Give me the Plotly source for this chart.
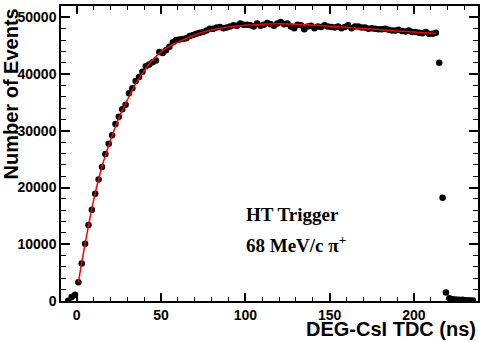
"""DEG-CsI TDC distribution with fit, ROOT-like style."""
import plotly.graph_objects as go

# bin centres (ns) and counts per bin
tdc_ns = [
    -5, -3, -1, 1, 3, 5, 7, 9, 11, 13, 15, 17, 19, 21, 23, 25, 27, 29, 31, 33,
    35, 37, 39, 41, 43, 45, 47, 49, 51, 53, 55, 57, 59, 61, 63, 65, 67, 69, 71, 73,
    75, 77, 79, 81, 83, 85, 87, 89, 91, 93, 95, 97, 99, 101, 103, 105, 107, 109, 111, 113,
    115, 117, 119, 121, 123, 125, 127, 129, 131, 133, 135, 137, 139, 141, 143, 145, 147, 149, 151, 153,
    155, 157, 159, 161, 163, 165, 167, 169, 171, 173, 175, 177, 179, 181, 183, 185, 187, 189, 191, 193,
    195, 197, 199, 201, 203, 205, 207, 209, 211, 213, 215, 217, 219, 221, 223, 225, 227, 229, 231, 233,
    235,
]
events = [
    50, 700, 1100, 3300, 6600, 10100, 13400, 16100, 18900, 21400,
    23600, 25900, 27700, 29200, 31200, 32500, 33800, 34600, 36600, 37500,
    38800, 39500, 40400, 41400, 41700, 42100, 42400, 43900, 43700, 44200,
    44800, 45600, 46000, 46100, 46200, 46300, 46700, 46900, 47100, 47300,
    47400, 47700, 48000, 48000, 48200, 48300, 48100, 48200, 48400, 48600,
    48500, 48900, 48700, 48700, 48600, 48400, 48900, 48500, 48700, 49000,
    48800, 48500, 48900, 49200, 48800, 48900, 48400, 48100, 48700, 48600,
    47900, 48400, 48500, 48100, 48400, 48300, 48600, 48400, 48300, 48200,
    48400, 48100, 48300, 48600, 48100, 48400, 48400, 48200, 48200, 48000,
    48100, 48000, 47900, 47900, 48000, 47800, 47700, 47700, 47800, 47600,
    47500, 47700, 47400, 47400, 47300, 47200, 47400, 47100, 47100, 47300,
    42000, 18200, 1500, 500, 300, 250, 200, 200, 150, 150,
    100,
]

# fitted curve
fit_x = [1, 5, 10, 15, 20, 25, 30, 35, 40, 45, 50, 55, 60, 70, 80, 90, 100,
         110, 120, 130, 140, 150, 160, 170, 180, 190, 200, 213]
fit_y = [3300, 10100, 17700, 23700, 28300, 32200, 35400, 38300, 40600, 42500,
         43900, 44900, 45600, 46900, 47800, 48300, 48600, 48800, 48850, 48800,
         48650, 48450, 48250, 48050, 47800, 47600, 47400, 47150]

label_lines = ["HT Trigger", "68 MeV/c π<sup>+</sup>"]

fig = go.Figure()
fig.add_trace(
    go.Scatter(
        x=tdc_ns,
        y=events,
        mode="markers",
        marker=dict(color="black", size=6.5),
        showlegend=False,
    )
)
fig.add_trace(
    go.Scatter(
        x=fit_x,
        y=fit_y,
        mode="lines",
        line=dict(color="red", width=1.5, shape="spline"),
        showlegend=False,
    )
)

tickfont = dict(family="Liberation Sans", size=14, color="black", weight="bold")
axis_common = dict(
    showline=True,
    linecolor="black",
    linewidth=1.5,
    mirror="allticks",
    ticks="inside",
    tickcolor="black",
    tickwidth=1.5,
    showgrid=False,
    zeroline=False,
    tickfont=tickfont,
    automargin=False,
    tickformat="d",
)

fig.update_xaxes(
    range=[-9.3, 238],
    tick0=0,
    dtick=50,
    ticklen=8,
    minor=dict(ticks="inside", dtick=10, ticklen=4, tickcolor="black", tickwidth=1.2),
    **axis_common,
)
fig.update_yaxes(
    range=[0, 52000],
    dtick=10000,
    ticklen=9,
    minor=dict(ticks="inside", dtick=2000, ticklen=5, tickcolor="black", tickwidth=1.2),
    **axis_common,
)

title_font = dict(family="Liberation Sans", size=20, color="black", weight="bold")
fig.add_annotation(
    text="Number of Events",
    xref="paper", yref="paper",
    x=-0.12, y=1.0,
    xanchor="center", yanchor="top",
    textangle=-90,
    showarrow=False,
    font=title_font,
)
fig.add_annotation(
    text="DEG-CsI TDC (ns)",
    xref="paper", yref="paper",
    x=1.0, y=-0.095,
    xanchor="right", yanchor="middle",
    showarrow=False,
    font=title_font,
)

serif = dict(family="Liberation Serif", size=19, color="black", weight="bold")
for txt, yv in zip(label_lines, [15300, 10100]):
    fig.add_annotation(
        text=txt,
        x=99.5, y=yv,
        xanchor="left", yanchor="middle",
        showarrow=False,
        font=serif,
    )

fig.update_layout(
    width=485,
    height=342,
    margin=dict(l=61, r=7, t=6, b=41),
    plot_bgcolor="white",
    paper_bgcolor="white",
)

# the page's default body margin would shift the figure by 8px
fig.write_html(
    "out.html",
    config={"displayModeBar": False},
    post_script="document.body.style.margin='0';",
)
